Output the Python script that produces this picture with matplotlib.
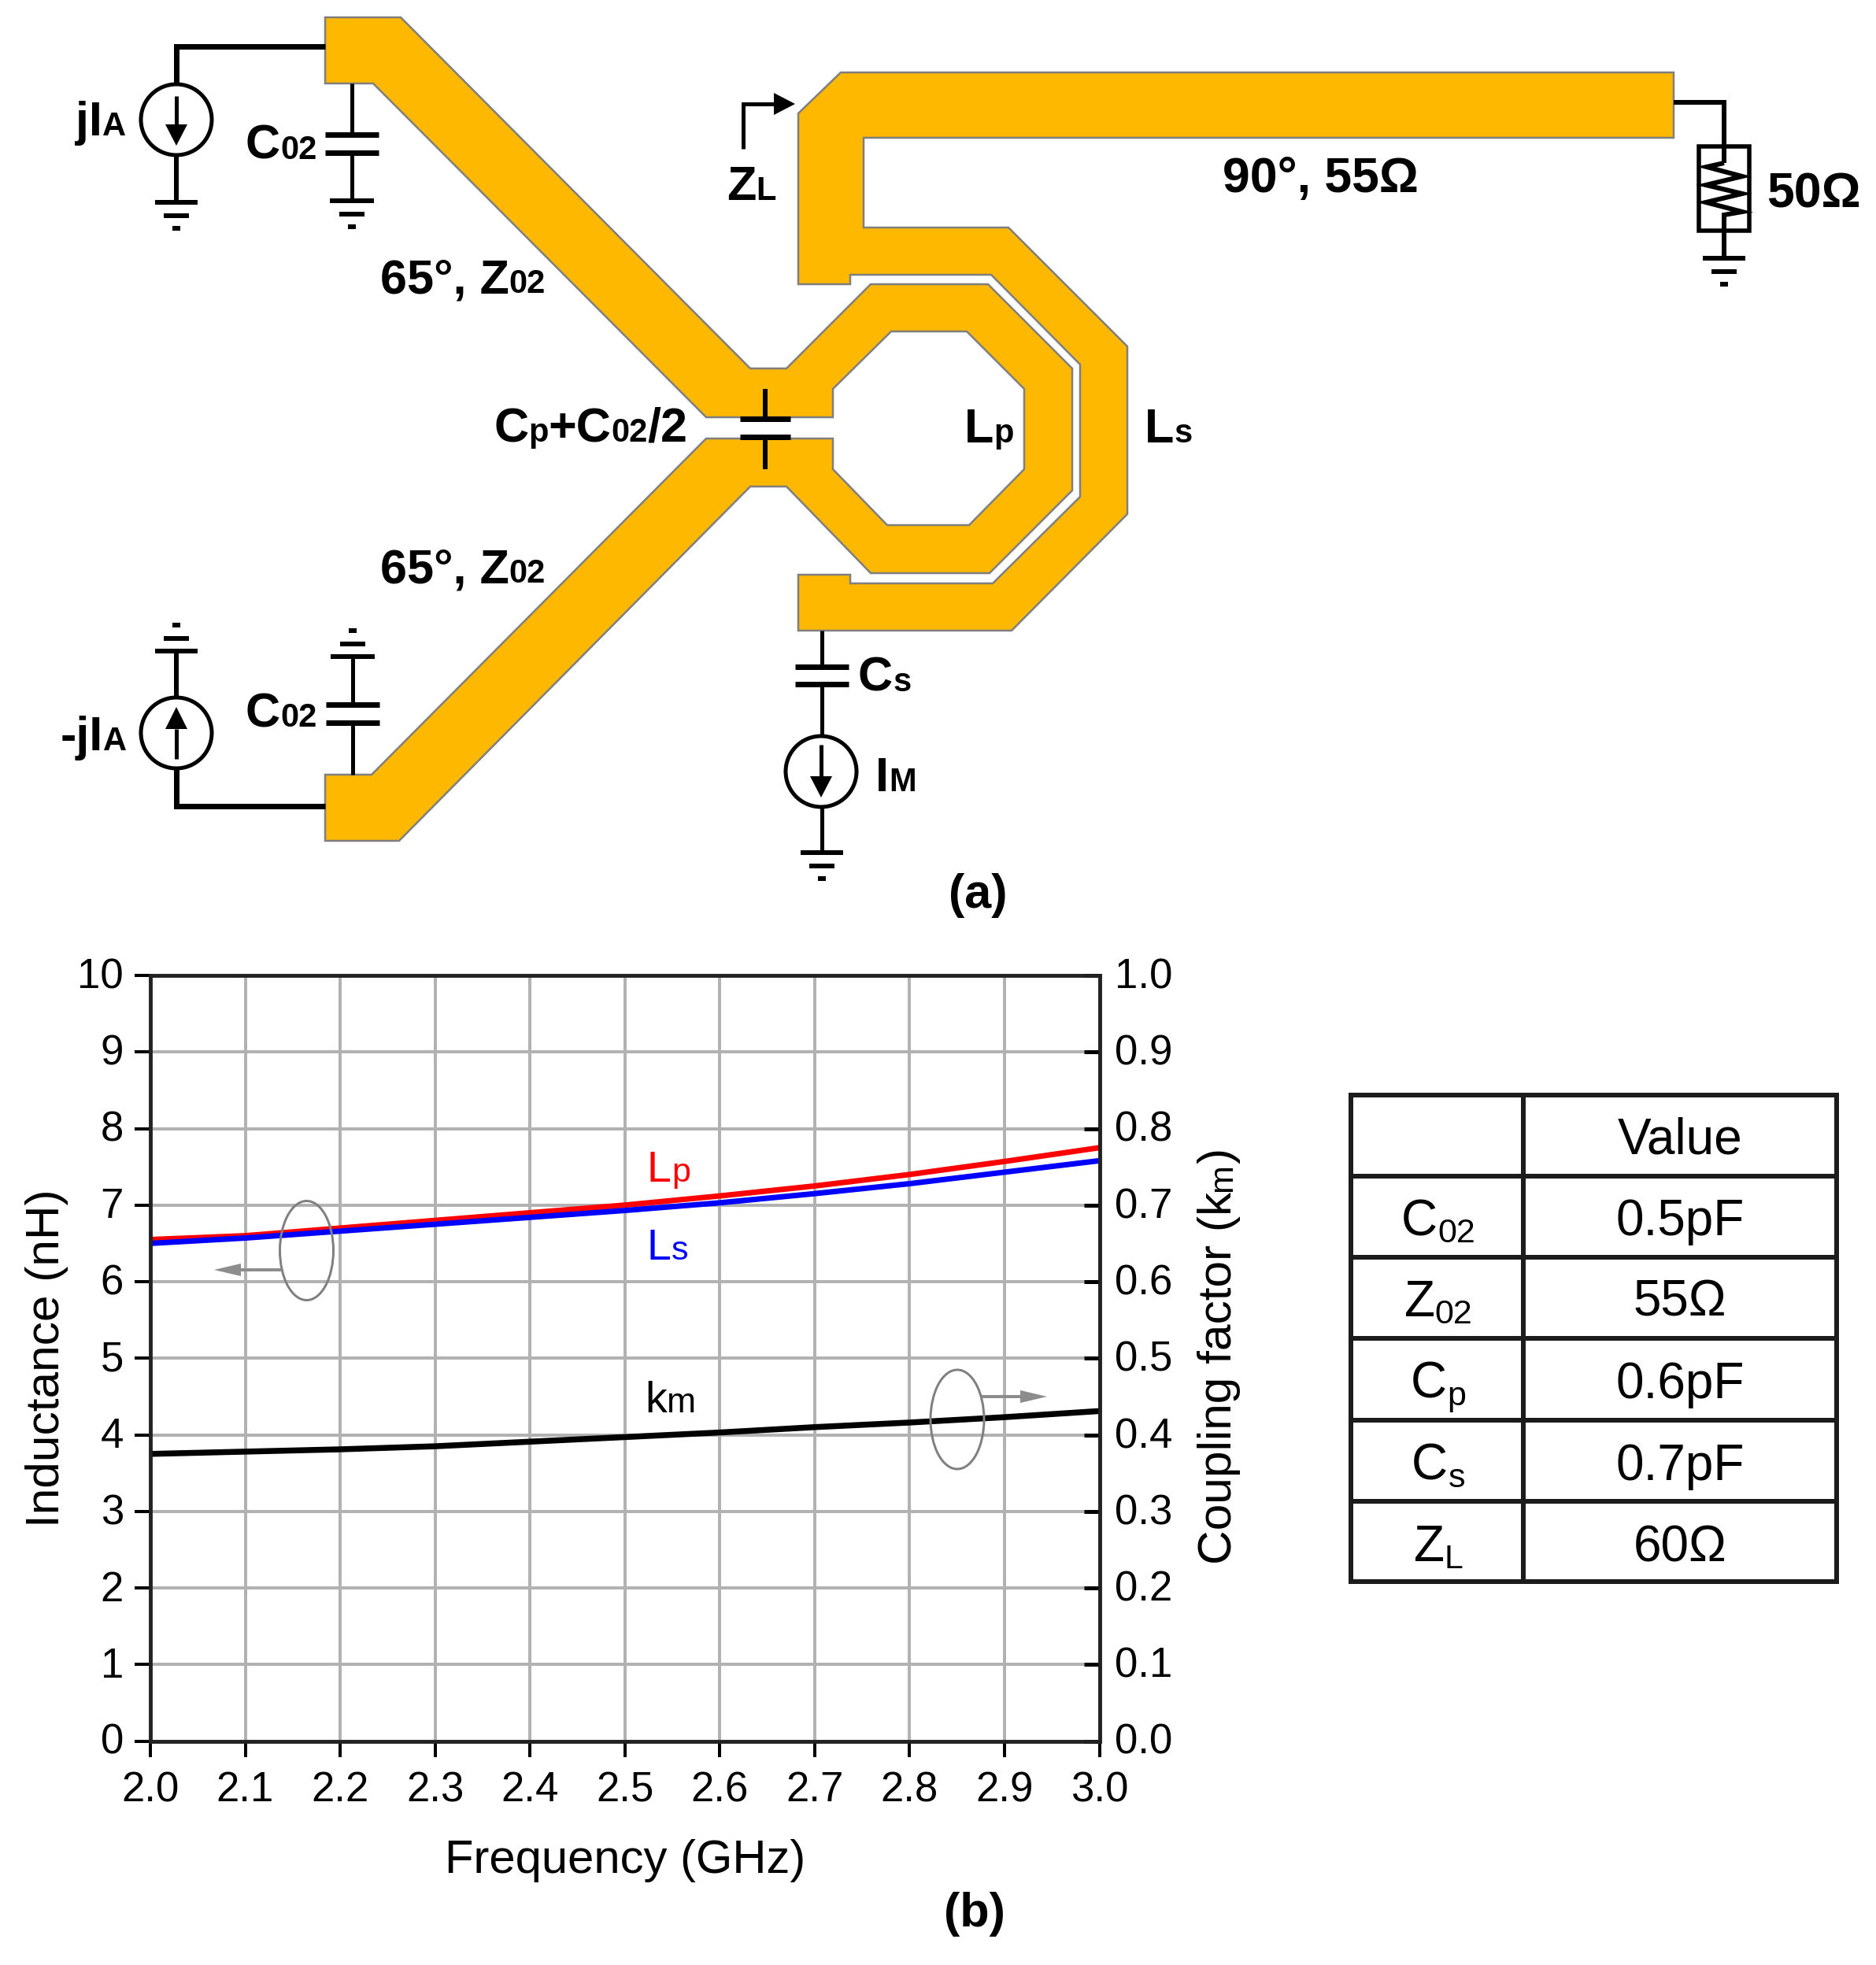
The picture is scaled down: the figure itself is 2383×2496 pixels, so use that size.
import numpy as np
import matplotlib
matplotlib.use('Agg')
import matplotlib.pyplot as plt
from matplotlib.patches import Polygon, Circle, Ellipse, Rectangle
from matplotlib.transforms import ScaledTranslation

plt.rcParams['font.family'] = ['Liberation Sans', 'DejaVu Sans']

# chart data
freq = [2.0, 2.1, 2.2, 2.3, 2.4, 2.5, 2.6, 2.7, 2.8, 2.9, 3.0]
lp = [6.55, 6.60, 6.70, 6.80, 6.90, 7.00, 7.12, 7.25, 7.40, 7.57, 7.75]
ls = [6.50, 6.57, 6.66, 6.75, 6.84, 6.93, 7.03, 7.15, 7.28, 7.43, 7.58]
km = [0.375, 0.378, 0.381, 0.385, 0.391, 0.397, 0.403, 0.410, 0.416, 0.423, 0.431]
x_ticks = [2.0, 2.1, 2.2, 2.3, 2.4, 2.5, 2.6, 2.7, 2.8, 2.9, 3.0]
left_ticks = [0, 1, 2, 3, 4, 5, 6, 7, 8, 9, 10]
right_ticks = [0.0, 0.1, 0.2, 0.3, 0.4, 0.5, 0.6, 0.7, 0.8, 0.9, 1.0]

# table data: (main, subscript) and value
table_names = [('C', '02'), ('Z', '02'), ('C', 'p'), ('C', 's'), ('Z', 'L')]
table_values = ['0.5pF', '55Ω', '0.6pF', '0.7pF', '60Ω']

W, H = 2383, 2496
GOLD = '#FFB800'
EDGE = '#7f7f7f'
PX = 0.72  # one pixel in points at dpi 100

fig = plt.figure(figsize=(W / 100, H / 100), dpi=100, facecolor='white')

# ---- chart ----
L, R, T, B = 191, 1396.5, 1239, 2211.5
ax = fig.add_axes([L / W, 1 - B / H, (R - L) / W, (B - T) / H])
ax2 = ax.twinx()
ax.set_xlim(2.0, 3.0)
ax.set_ylim(0, 10)
ax2.set_ylim(0, 1.0)
ax.set_xticks(x_ticks)
ax.set_xticklabels(['%.1f' % v for v in x_ticks])
ax.set_yticks(left_ticks)
ax2.set_yticks(right_ticks)
ax2.set_yticklabels(['%.1f' % v for v in right_ticks])
ax.grid(True, color='#b2b2b2', lw=4 * PX)
ax.set_axisbelow(True)
ax.plot(freq, lp, color='#ff0000', lw=7 * PX, solid_capstyle='butt')
ax.plot(freq, ls, color='#0000ff', lw=7 * PX, solid_capstyle='butt')
ax2.plot(freq, km, color='black', lw=7.5 * PX, solid_capstyle='butt')
ax.tick_params(axis='x', direction='out', length=20 * PX, width=4 * PX, pad=18 * PX, labelsize=38)
ax.tick_params(axis='y', direction='out', length=20 * PX, width=4 * PX, pad=14 * PX, labelsize=38)
ax2.tick_params(axis='y', direction='in', length=20 * PX, width=5 * PX, pad=20 * PX, labelsize=38)
# tick labels on both sides sit a little above their ticks
lift = ScaledTranslation(0, 3 / 100, fig.dpi_scale_trans)
for a in (ax, ax2):
    for lab in a.get_yticklabels():
        lab.set_transform(lab.get_transform() + lift)
    for s in a.spines.values():
        s.set_linewidth(4.5 * PX)
        s.set_color('#222222')
ax.set_xlabel('Frequency (GHz)', fontsize=43, labelpad=26)
ax.set_ylabel('Inductance (nH)', fontsize=43.5, labelpad=8)

# ---- overlay in picture pixels, y pointing down ----
ov = fig.add_axes([0, 0, 1, 1], facecolor='none')
ov.set_xlim(0, W)
ov.set_ylim(H, 0)
ov.axis('off')
renderer = fig.canvas.get_renderer()


def mixed(x, y, parts, weight='bold', color='black', rotation=0, center=False):
    # parts: (text, size, drop). Each part starts where the last one ended
    texts = []
    pos = 0
    for s, size, drop in parts:
        t = ov.text(0, 0, s, fontsize=size, fontweight=weight, color=color, ha='left',
                    va='baseline', rotation=rotation, rotation_mode='anchor')
        t.set_rotation(0)
        w = t.get_window_extent(renderer).width
        t.set_rotation(rotation)
        texts.append((t, pos, drop))
        pos += w
    start = -pos / 2 if center else 0
    for t, p, drop in texts:
        if rotation == 90:
            t.set_position((x + drop, y - start - p))
        else:
            t.set_position((x + start + p, y + drop))


def wire(xs, ys, w=6, color='black', z=5):
    ov.plot(xs, ys, color=color, lw=w * PX, solid_capstyle='butt', solid_joinstyle='miter', zorder=z)


def ground(x, y, sign=1, half=27):
    wire([x - half, x + half], [y, y])
    wire([x - 16, x + 16], [y + sign * 16.5, y + sign * 16.5])
    wire([x - 5, x + 5], [y + sign * 33, y + sign * 33])


def cap_h(x, y1, y2, half=34):
    wire([x - half, x + half], [y1, y1], w=7)
    wire([x - half, x + half], [y2, y2], w=7)


def source(x, y, tip, base, tail):
    ov.add_patch(Circle((x, y), 45, fill=False, ec='black', lw=5 * PX, zorder=5))
    wire([x, x], [tail, base], w=5)
    ov.add_patch(Polygon([(x - 14, base), (x + 14, base), (x, tip)], fc='black', ec='none', zorder=6))


# transmission lines and coils
primary = [(413, 22), (509, 22), (953, 468), (999, 468), (1106, 361), (1255, 361), (1362, 468),
           (1362, 623), (1257, 728), (1106, 728), (999, 618), (953, 618), (507, 1068), (413, 1068),
           (413, 984), (472, 984), (897, 557), (1058, 557), (1058, 596), (1127, 667), (1231, 667),
           (1301, 596), (1301, 494), (1228, 421), (1132, 421), (1058, 494), (1058, 530), (897, 530),
           (474, 106), (413, 106)]
secondary = [(1068, 92), (2126, 92), (2126, 175), (1097, 175), (1097, 289), (1281, 289), (1432, 440),
             (1432, 653), (1285, 801), (1014, 801), (1014, 730), (1080, 730), (1080, 741), (1261, 741),
             (1372, 631), (1372, 463), (1259, 349), (1080, 349), (1080, 361), (1014, 361), (1014, 144)]
for shape in (primary, secondary):
    ov.add_patch(Polygon(shape, closed=True, fc=GOLD, ec=EDGE, lw=2.5 * PX, zorder=2))

# jIA source, top
wire([413, 224, 224], [59, 59, 107], w=7)
source(224, 152, 185, 158, 122)
wire([224, 224], [197, 257])
ground(224, 257)
# C02 top
wire([447, 447], [106, 171], w=5)
cap_h(447, 171, 194)
wire([447, 447], [194, 255], w=5)
ground(447, 255, half=28)
# -jIA source, bottom
wire([413, 224, 224], [1024, 1024, 976], w=7)
source(224, 931, 898, 926, 964)
wire([224, 224], [886, 827])
ground(224, 827, sign=-1)
# C02 bottom
wire([448, 448], [984, 918], w=5)
cap_h(448, 918, 895)
wire([448, 448], [895, 834], w=5)
ground(448, 834, sign=-1, half=28)
# Cp
wire([972, 972], [494, 532], w=6)
cap_h(972, 532, 555, half=32)
wire([972, 972], [555, 596], w=6)
# Cs and IM
wire([1044, 1044], [801, 847], w=5)
cap_h(1044, 847, 869)
wire([1044, 1044], [869, 935], w=5)
source(1043, 980, 1013, 986, 946)
wire([1044, 1044], [1025, 1083], w=5)
ground(1044, 1083)
# ZL arrow
wire([944, 944, 985], [189, 132, 132], w=5)
ov.add_patch(Polygon([(983, 118), (983, 146), (1010, 132)], fc='black', ec='none', zorder=6))
# load
wire([2126, 2190, 2190], [130, 130, 207], w=6)
ov.add_patch(Rectangle((2158, 186), 64, 107, fill=False, ec='black', lw=5.5 * PX, zorder=5))
wire([2190, 2168, 2213, 2167, 2213, 2167, 2213, 2190, 2190],
     [207, 212, 224, 235, 246, 257, 269, 273, 328], w=6)
ground(2190, 328)

# schematic labels
big, small = 44, 30
mixed(96, 172, [('jI', big, 0), ('A', small, 0)])
mixed(77, 953, [('-jI', big, 0), ('A', small, 0)])
mixed(312, 202, [('C', big, 0), ('02', small, 0)])
mixed(312, 923, [('C', big, 0), ('02', small, 0)])
mixed(483, 372, [('65°, Z', big, 0), ('02', small, 0)])
mixed(483, 740, [('65°, Z', big, 0), ('02', small, 0)])
mixed(627, 561, [('C', big, 0), ('p', small, 0), ('+C', big, 0), ('02', small, 0), ('/2', big, 0)])
mixed(923, 254, [('Z', big, 0), ('L', small, 0)])
mixed(1090, 878, [('C', big, 0), ('s', small, 0)])
mixed(1112, 1005, [('I', big, 0), ('M', small, 0)])
mixed(1553, 244, [('90°, 55Ω', big + 1, 0)])
mixed(2244, 263, [('50Ω', big + 1, 0)])
mixed(1225, 562, [('L', big, 0), ('p', small, 0)])
mixed(1454, 562, [('L', big, 0), ('s', small, 0)])
ov.text(1242, 1138, '(a)', fontsize=44, fontweight='bold', ha='center', va='center')
ov.text(1238, 2431, '(b)', fontsize=44, fontweight='bold', ha='center', va='center')

# chart labels and side marks
mixed(822, 1501, [('L', 40, 0), ('p', 31, 0)], weight='normal', color='#ff0000')
mixed(822, 1600, [('L', 40, 0), ('s', 31, 0)], weight='normal', color='#0000ff')
mixed(819, 1794, [('k', 40, 0), ('m', 32, 0)], weight='normal')
mixed(1564, 1987, [('Coupling factor (k', 43.5, 0), ('m', 31, 0), (')', 43.5, 0)], weight='normal', rotation=90)
for cx, cy, x0, x1, ya in [(389.5, 1588.5, 358, 272, 1613), (1216, 1803, 1247, 1330, 1774)]:
    ov.add_patch(Ellipse((cx, cy), 68, 126, fill=False, ec='#808080', lw=3 * PX, zorder=7))
    d = 1 if x1 > x0 else -1
    wire([x0, x1 - d * 26], [ya, ya], w=4, color='#8c8c8c', z=7)
    ov.add_patch(Polygon([(x1 - d * 34, ya - 8), (x1 - d * 34, ya + 8), (x1, ya)], fc='#8c8c8c', ec='none', zorder=7))

# ---- table ----
row_y = [1391, 1494, 1597, 1700, 1804, 1907, 2009]
col_x = [1716, 1935, 2333]
for y in row_y:
    wire([col_x[0] - 3, col_x[2] + 3], [y, y], w=6, color='#1c1c1c')
for x in col_x:
    wire([x, x], [row_y[0] - 3, row_y[-1] + 3], w=6, color='#1c1c1c')
mixed(2134, 1466, [('Value', 46, 0)], weight='normal', center=True)
base_y = [1569, 1672, 1776, 1880, 1983]
for (name, sub), val, y in zip(table_names, table_values, base_y):
    mixed(1827, y, [(name, 46, 0), (sub, 31, 9)], weight='normal', center=True)
    mixed(2134, y, [(val, 46, 0)], weight='normal', center=True)

fig.savefig('out.png', dpi=100)
